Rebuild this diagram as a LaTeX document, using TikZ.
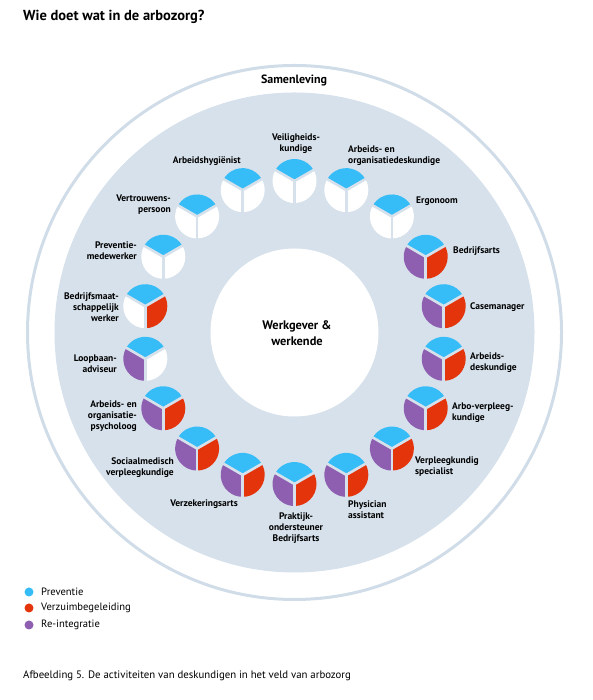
\documentclass[tikz,border=0pt]{standalone}
\usepackage{fontspec}
\setmainfont{PT Sans}
\usetikzlibrary{calc}

\definecolor{discgrey}{HTML}{D6E1EB}
\definecolor{ringline}{HTML}{D0DCE8}
\definecolor{prevblue}{HTML}{36BCF7}
\definecolor{verzred}{HTML}{E4340B}
\definecolor{reintpurple}{HTML}{8E5FB1}

\tikzset{
    rol/.style={font=\bfseries\fontsize{9.5}{11}\selectfont, inner sep=0pt},
    legtext/.style={font=\fontsize{10.6}{12}\selectfont, anchor=west, inner sep=0pt},
    divider/.style={discgrey, line width=2.6pt}
}

\begin{document}
\begin{tikzpicture}[x=1pt, y=1pt]
    \useasboundingbox (0,0) rectangle (593,700);
    \coordinate (mid) at (294.5,367.5);

    % Title
    \node[anchor=west, inner sep=0pt, font=\bfseries\fontsize{14.5}{16}\selectfont] (title) at (23,683) {Wie doet wat in de arbozorg?};

    % Draw society ring, grey disc and the inner circle
    \draw[ringline, line width=3pt] (mid) circle (267);
    \fill[discgrey] (mid) circle (240);
    \fill[white] (mid) circle (84);
    \node[inner sep=0pt, font=\bfseries\fontsize{12}{13}\selectfont] (samenleving) at (294,619) {Samenleving};
    \node[inner sep=0pt, align=center, font=\bfseries\fontsize{12.4}{16}\selectfont] (werkgever) at (297,367) {Werkgever \&\\werkende};

    % Draw one pie per expert: top = preventie, right = verzuim, left = re-integratie
    \foreach \ang/\rc/\lc [count=\i] in {90/white/white, 70/white/white, 50/white/white,
            30/verzred/reintpurple, 10/verzred/reintpurple, -10/verzred/reintpurple,
            -30/verzred/reintpurple, -50/verzred/reintpurple, -70/verzred/reintpurple,
            -90/verzred/reintpurple, -110/verzred/reintpurple, -130/verzred/reintpurple,
            -150/verzred/reintpurple, -170/white/reintpurple, 170/verzred/white,
            150/white/white, 130/white/white, 110/white/white} {
            \coordinate (p\i) at ($(mid)+(\ang:151.5)$);
            \fill[prevblue] (p\i) -- ++(30:22) arc[start angle=30, end angle=150, radius=22] -- cycle;
            \fill[\rc] (p\i) -- ++(-90:22) arc[start angle=-90, end angle=30, radius=22] -- cycle;
            \fill[\lc] (p\i) -- ++(150:22) arc[start angle=150, end angle=270, radius=22] -- cycle;
            \foreach \d in {30, 150, 270} {
                    \draw[divider] (p\i) -- ++(\d:22.5);
                }
        }

    % Labels of the experts
    \node[rol, align=center] (veilig) at (296,556) {Veiligheids-\\kundige};
    \node[rol, align=left, anchor=west] (aodesk) at (348,544) {Arbeids- en\\organisatiedeskundige};
    \node[rol, anchor=west] (ergo) at (416,499) {Ergonoom};
    \node[rol, anchor=west] (barts) at (453,449) {Bedrijfsarts};
    \node[rol, anchor=west] (casem) at (470,393) {Casemanager};
    \node[rol, align=left, anchor=west] (adesk) at (470,337) {Arbeids-\\deskundige};
    \node[rol, align=left, anchor=west] (arbovp) at (452,287) {Arbo-verpleeg-\\kundige};
    \node[rol, align=left, anchor=west] (vpspec) at (415,233) {Verpleegkundig\\specialist};
    \node[rol, align=left, anchor=west] (physic) at (348,190) {Physician\\assistant};
    \node[rol, align=center] (poh) at (296,172) {Praktijk-\\ondersteuner\\Bedrijfsarts};
    \node[rol, anchor=east] (verzek) at (238,196) {Verzekeringsarts};
    \node[rol, align=right, anchor=east] (smvp) at (174,232) {Sociaalmedisch\\verpleegkundige};
    \node[rol, align=right, anchor=east] (aopsy) at (137,284) {Arbeids- en\\organisatie-\\psycholoog};
    \node[rol, align=right, anchor=east] (loopb) at (117,336) {Loopbaan-\\adviseur};
    \node[rol, align=right, anchor=east] (bmw) at (119,393) {Bedrijfsmaat-\\schappelijk\\werker};
    \node[rol, align=right, anchor=east] (prevm) at (137,449) {Preventie-\\medewerker};
    \node[rol, align=right, anchor=east] (vertr) at (171,495) {Vertrouwens-\\persoon};
    \node[rol, anchor=east] (ahyg) at (241,539) {Arbeidshygiënist};

    % Legend
    \foreach \col/\txt/\y [count=\j] in {prevblue/Preventie/108, verzred/Verzuimbegeleiding/92, reintpurple/Re-integratie/75} {
            \fill[\col] (29,\y) circle (4.5);
            \node[legtext] (leg\j) at (41,\y) {\txt};
        }

    % Caption
    \node[anchor=west, inner sep=0pt, font=\fontsize{10.8}{12}\selectfont] (caption) at (23,24) {Afbeelding 5. De activiteiten van deskundigen in het veld van arbozorg};
\end{tikzpicture}
\end{document}
